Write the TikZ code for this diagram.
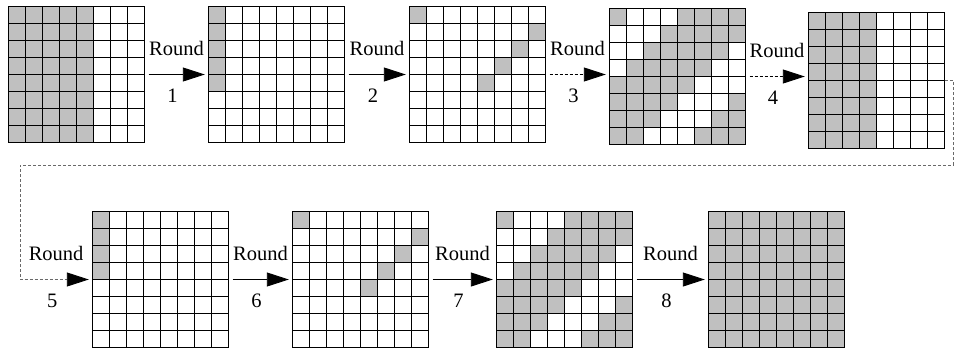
\documentclass[tikz,border=0pt]{standalone}
\usepackage{fontspec}
\setmainfont{Liberation Serif}
\usetikzlibrary{arrows.meta}
\definecolor{CellClr}{RGB}{192,192,192}
\definecolor{LoopClr}{RGB}{105,105,105}
\newcommand{\cw}{17}
\newcommand{\GrayCell}[2]{\fill[CellClr] (#2*\cw,#1*\cw) rectangle ++(\cw,\cw);}
\newcommand{\WhiteCell}[2]{\fill[white] (#2*\cw,#1*\cw) rectangle ++(\cw,\cw);}
\newcommand{\GrayAll}{\fill[CellClr] (0,0) rectangle (8*\cw,8*\cw);}
\newcommand{\StateGrid}[4]{%
  \begin{scope}[shift={(#2,#3)}]
    #4
    \foreach \k in {0,...,8}{
      \draw[gridline] (\k*\cw,0) -- (\k*\cw,8*\cw);
      \draw[gridline] (0,\k*\cw) -- (8*\cw,\k*\cw);
    }
    \node[gridbox] (#1) at (4*\cw,4*\cw) {};
  \end{scope}}
\newcommand{\Twisted}{%
  \GrayAll
  \foreach \r/\c in {0/1,0/2,0/3,1/0,1/1,1/2,2/0,2/1,2/7,3/0,3/6,3/7,
                     4/5,4/6,4/7,5/4,5/5,5/6,6/3,6/4,6/5,7/2,7/3,7/4}
    {\WhiteCell{\r}{\c}}}

\begin{document}
\begin{tikzpicture}[x=1pt,y=-1pt,
  font=\fontsize{20.5}{24}\selectfont,
  gridline/.style={line width=1pt,black,line cap=rect},
  gridbox/.style={inner sep=0pt,minimum size=136pt},
  flow/.style={line width=0.9pt,-{Triangle[length=22pt,width=14pt]},
    shorten <=4pt,shorten >=3.5pt},
  dashflow/.style={flow,dash pattern=on 3pt off 2pt},
  loopline/.style={line width=0.9pt,draw=LoopClr,dash pattern=on 3pt off 2pt,
    -{Triangle[length=22pt,width=14pt,color=black]},shorten >=3.5pt},
  rndlbl/.style={anchor=base,inner sep=0pt,yshift=19pt},
  numlbl/.style={anchor=base,inner sep=0pt,yshift=-28pt,xshift=-4pt}]
\useasboundingbox (0,0) rectangle (958,349);

\StateGrid{g1}{8.5}{6.5}{\foreach \r in {0,...,7} \foreach \c in {0,...,4} {\GrayCell{\r}{\c}}}
\StateGrid{g2}{208.5}{6.5}{\foreach \r in {0,...,4} {\GrayCell{\r}{0}}}
\StateGrid{g3}{409.5}{6.5}{\foreach \r/\c in {0/0,1/7,2/6,3/5,4/4} {\GrayCell{\r}{\c}}}
\StateGrid{g4}{609.5}{8.5}{\Twisted}
\StateGrid{g5}{808.5}{12.5}{\foreach \r in {0,...,7} \foreach \c in {0,...,3} {\GrayCell{\r}{\c}}}

\StateGrid{g6}{92.5}{211.5}{\foreach \r in {0,...,3} {\GrayCell{\r}{0}}}
\StateGrid{g7}{292.5}{211.5}{\foreach \r/\c in {0/0,1/7,2/6,3/5,4/4} {\GrayCell{\r}{\c}}}
\StateGrid{g8}{496.5}{211.5}{\Twisted}
\StateGrid{g9}{708.5}{211.5}{\GrayAll}

\draw[flow] (g1) -- (g2) node[midway,rndlbl]{Round} node[midway,numlbl]{1};
\draw[flow] (g2) -- (g3) node[midway,rndlbl]{Round} node[midway,numlbl]{2};
\draw[dashflow] (g3) -- (g4.west |- g3.east) node[midway,rndlbl]{Round} node[midway,numlbl]{3};
\draw[dashflow] (g4) -- (g4.east -| g5.west) node[midway,rndlbl]{Round} node[midway,numlbl]{4};

\coordinate (loopR) at (953,165);
\coordinate (loopL) at (20,165);
\draw[loopline] (g5.east) -| (loopR) -- (loopL) |- (g6.west);
\path (loopL |- g6.west) -- (g6.west) node[midway,rndlbl]{Round} node[midway,numlbl]{5};

\draw[flow] (g6) -- (g7) node[midway,rndlbl]{Round} node[midway,numlbl]{6};
\draw[flow] (g7) -- (g8) node[midway,rndlbl]{Round} node[midway,numlbl]{7};
\draw[flow] (g8) -- (g9) node[midway,rndlbl]{Round} node[midway,numlbl]{8};

\end{tikzpicture}
\end{document}
